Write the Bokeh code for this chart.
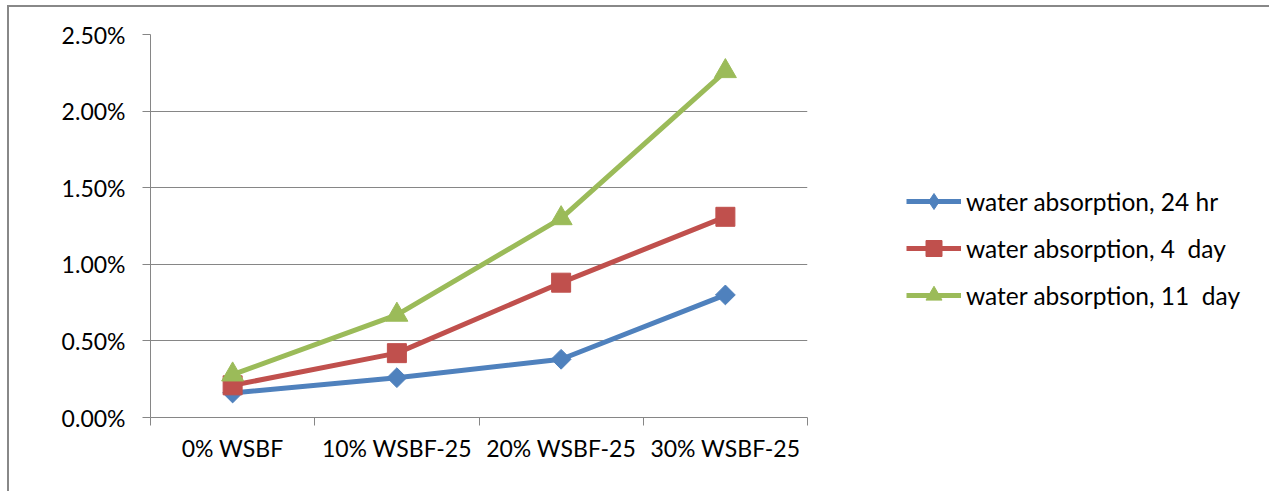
from bokeh.plotting import figure
from bokeh.layouts import row
from bokeh.models import FixedTicker, PrintfTickFormatter, Legend, LegendItem, Range1d
from bokeh.embed import file_html
from bokeh.resources import INLINE
import numpy as np

# Mix designs along the horizontal axis
categories = ["0% WSBF", "10% WSBF-25", "20% WSBF-25", "30% WSBF-25"]

# Water absorption (%) after each soaking period
absorption_24hr = [0.16, 0.26, 0.38, 0.80]
absorption_4day = [0.21, 0.42, 0.88, 1.31]
absorption_11day = [0.28, 0.67, 1.30, 2.26]

series_names = ["water absorption, 24 hr", "water absorption, 4  day", "water absorption, 11  day"]
y_ticks = [0.0, 0.5, 1.0, 1.5, 2.0, 2.5]

FONT = "Lato"
GRID = "#868686"
LINE_W = 5

# category i sits in the middle of slot [i, i+1]
x = [i + 0.5 for i in range(len(categories))]

p = figure(width=799, height=484, output_backend="svg", toolbar_location=None,
           x_range=Range1d(0, len(categories)), y_range=Range1d(y_ticks[0], y_ticks[-1]),
           min_border_left=141, min_border_right=1, min_border_top=27, min_border_bottom=74,
           outline_line_color=None)

# x axis: labels at slot centres, tick marks at slot boundaries
p.xaxis.ticker = FixedTicker(ticks=x, minor_ticks=list(range(len(categories) + 1)))
p.xaxis.major_label_overrides = {xi: c for xi, c in zip(x, categories)}
p.xaxis.major_tick_in = 0
p.xaxis.major_tick_out = 0
p.xaxis.minor_tick_in = 0
p.xaxis.minor_tick_out = 8
p.xaxis.minor_tick_line_color = GRID
p.xaxis.axis_line_color = GRID
p.xaxis.major_label_standoff = 8
p.xgrid.visible = False

# y axis in percent
p.yaxis.ticker = FixedTicker(ticks=y_ticks, minor_ticks=[])
p.yaxis.formatter = PrintfTickFormatter(format="%.2f%%")
p.yaxis.major_tick_in = 0
p.yaxis.major_tick_out = 8
p.yaxis.major_tick_line_color = GRID
p.yaxis.axis_line_color = GRID
p.yaxis.major_label_standoff = 17
p.ygrid.grid_line_color = GRID
p.ygrid.ticker = FixedTicker(ticks=y_ticks)

for ax in (p.xaxis, p.yaxis):
    ax.major_label_text_font = FONT
    ax.major_label_text_font_size = "23px"
    ax.major_label_text_color = "#000000"

# values, colour, plot marker, size, angle, legend marker
series = [
    (absorption_24hr, "#4F81BD", "square", 14, np.pi / 4, "diamond"),
    (absorption_4day, "#C0504D", "square", 19, 0.0, "square"),
    (absorption_11day, "#9BBB59", "triangle", 22, 0.0, "triangle"),
]

for vals, color, marker, size, angle, _ in series:
    p.line(x, vals, line_color=color, line_width=LINE_W, line_join="round")
    p.scatter(x, vals, marker=marker, size=size, angle=angle,
              fill_color=color, line_color=color)

# Legend panel to the right of the plot area; its view range lies away from
# the data, so only the legend swatches of these renderers are visible
q = figure(width=461, height=484, output_backend="svg", toolbar_location=None,
           x_range=Range1d(-10, -9), y_range=Range1d(-10, -9),
           min_border=0, outline_line_color=None)
q.axis.visible = False
q.grid.visible = False

items = []
for (vals, color, _, size, _, legend_marker), name in zip(series, series_names):
    ln = q.line(x, vals, line_color=color, line_width=LINE_W)
    mk = q.scatter(x, vals, marker=legend_marker, size=size,
                   fill_color=color, line_color=color)
    items.append(LegendItem(label=name, renderers=[ln, mk]))

legend = Legend(items=items, location=(98, 102), glyph_width=55, glyph_height=40,
                label_height=40, spacing=7, padding=0, margin=0,
                border_line_color=None, background_fill_alpha=0,
                label_text_font=FONT, label_text_font_size="24.5px",
                label_text_color="#000000", label_standoff=5)
q.add_layout(legend)

chart = row(p, q, margin=(5, 0, 0, 7),
            styles={"border-top": "2px solid #888888", "border-left": "2px solid #888888"})

open("out.html", "w").write(file_html(chart, INLINE))
